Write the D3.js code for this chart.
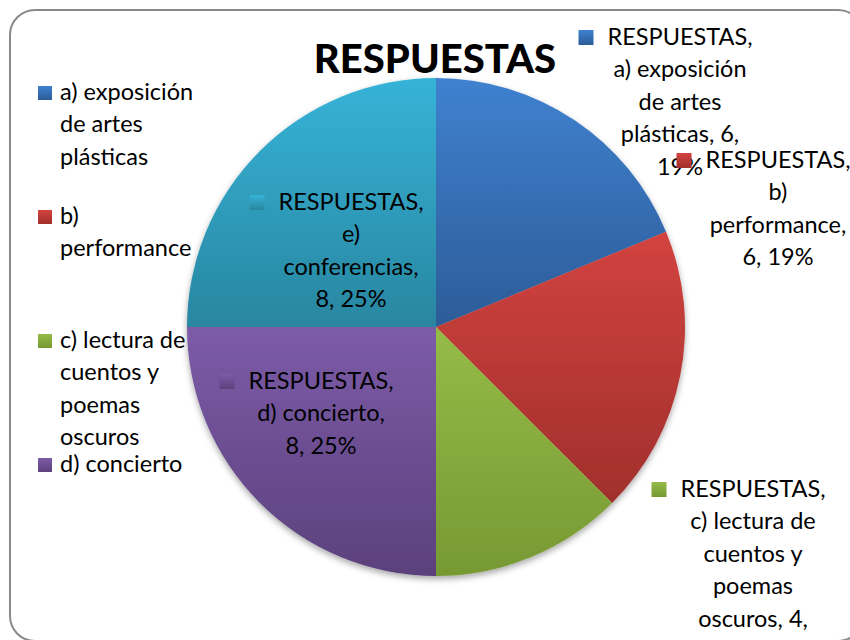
<!DOCTYPE html>
<html><head><meta charset="utf-8">
<script src="https://cdn.jsdelivr.net/npm/d3@7"></script>
<style>body{margin:0;background:#fff} svg{display:block}</style>
</head><body><svg id="c" width="850" height="640"></svg>
<script>
// ---- data ----
const seriesName = "RESPUESTAS";
const categories = ["a) exposición de artes plásticas", "b) performance", "c) lectura de cuentos y poemas oscuros", "d) concierto", "e) conferencias"];
const values = [6, 6, 4, 8, 8];
const legendCategories = categories.slice(0, 4); // legend shows first four entries (truncated)
const topColors = ["#3f81cf", "#d2433f", "#95bb47", "#7d5ba8", "#36b3d8"];
const bottomColors = ["#2c5c98", "#a02f2c", "#779933", "#5b417c", "#2986a0"];

// ---- layout ----
const W = 850, H = 640;
const cx = 436, cy = 327, R = 249;
const FONT = "Lato, 'Open Sans', sans-serif";
const FS = 23.5, LH = 32.4;
// label anchors: [center x, first baseline y]
const labelAnchors = [[680, 45], [778, 168], [753, 497], [321, 389], [351, 210]];
const legendX = 38, legendTextX = 60, legendY0 = 100, legendStep = 124;

const svg = d3.select("#c");
const defs = svg.append("defs");

// frame
svg.append("rect").attr("x", 10).attr("y", 10).attr("width", 853).attr("height", 631)
  .attr("rx", 25).attr("fill", "#fff").attr("stroke", "#8a8a8a").attr("stroke-width", 2);

// gradients
categories.forEach((c, i) => {
  const g = defs.append("linearGradient").attr("id", "g" + i)
    .attr("x1", 0).attr("y1", 0).attr("x2", 0).attr("y2", 1);
  g.append("stop").attr("offset", 0).attr("stop-color", topColors[i]);
  g.append("stop").attr("offset", 1).attr("stop-color", bottomColors[i]);
});
const f = defs.append("filter").attr("id", "sh").attr("x", -0.1).attr("y", -0.1).attr("width", 1.2).attr("height", 1.2);
f.append("feDropShadow").attr("dx", 0).attr("dy", 3).attr("stdDeviation", 3)
  .attr("flood-color", "#000").attr("flood-opacity", 0.35);

// pie
const total = d3.sum(values);
const pie = d3.pie().sort(null).value(d => d)(values);
const arc = d3.arc().innerRadius(0).outerRadius(R);
svg.append("g").attr("transform", `translate(${cx},${cy})`).attr("filter", "url(#sh)")
  .selectAll("path").data(pie).join("path")
  .attr("d", arc).attr("fill", (d, i) => `url(#g${i})`);

// title
svg.append("text").attr("x", 435).attr("y", 73).attr("text-anchor", "middle")
  .attr("font-family", FONT).attr("font-weight", "900").attr("font-size", 40)
  .attr("fill", "#000").text(seriesName);

// helper: measure
const meas = svg.append("text").attr("font-family", FONT).attr("font-size", FS).attr("visibility", "hidden");
function tw(s) { meas.text(s); return meas.node().getComputedTextLength(); }
function wrap(str, maxW) {
  const words = str.split(" ");
  const lines = [];
  let cur = "";
  words.forEach(w => {
    const t = cur ? cur + " " + w : w;
    if (cur && tw(t) > maxW) { lines.push(cur); cur = w; } else cur = t;
  });
  if (cur) lines.push(cur);
  return lines;
}

// legend
const legW = tw("a) exposición") + 3;
legendCategories.forEach((c, i) => {
  const by = legendY0 + i * legendStep;
  svg.append("rect").attr("x", legendX).attr("y", by - 14).attr("width", 14).attr("height", 14)
    .attr("fill", `url(#g${i})`);
  const lines = wrap(c, legW);
  const t = svg.append("text").attr("font-family", FONT).attr("font-size", FS).attr("fill", "#000");
  lines.forEach((l, k) => t.append("tspan").attr("x", legendTextX).attr("y", by + k * LH).text(l));
});

// data labels
const labW = tw(seriesName + ",") + 2;
pie.forEach((d, i) => {
  const pct = Math.round(values[i] / total * 100);
  const str = `${seriesName}, ${categories[i]}, ${values[i]}, ${pct}%`;
  const lines = wrap(str, labW);
  const [ax, ay] = labelAnchors[i];
  const t = svg.append("text").attr("font-family", FONT).attr("font-size", FS).attr("fill", "#000")
    .attr("text-anchor", "middle");
  lines.forEach((l, k) => t.append("tspan").attr("x", ax).attr("y", ay + k * LH).text(l));
  const w0 = tw(lines[0]);
  svg.append("rect").attr("x", ax - w0 / 2 - 29).attr("y", ay - 15).attr("width", 15).attr("height", 15)
    .attr("fill", `url(#g${i})`);
});
meas.remove();
</script></body></html>
